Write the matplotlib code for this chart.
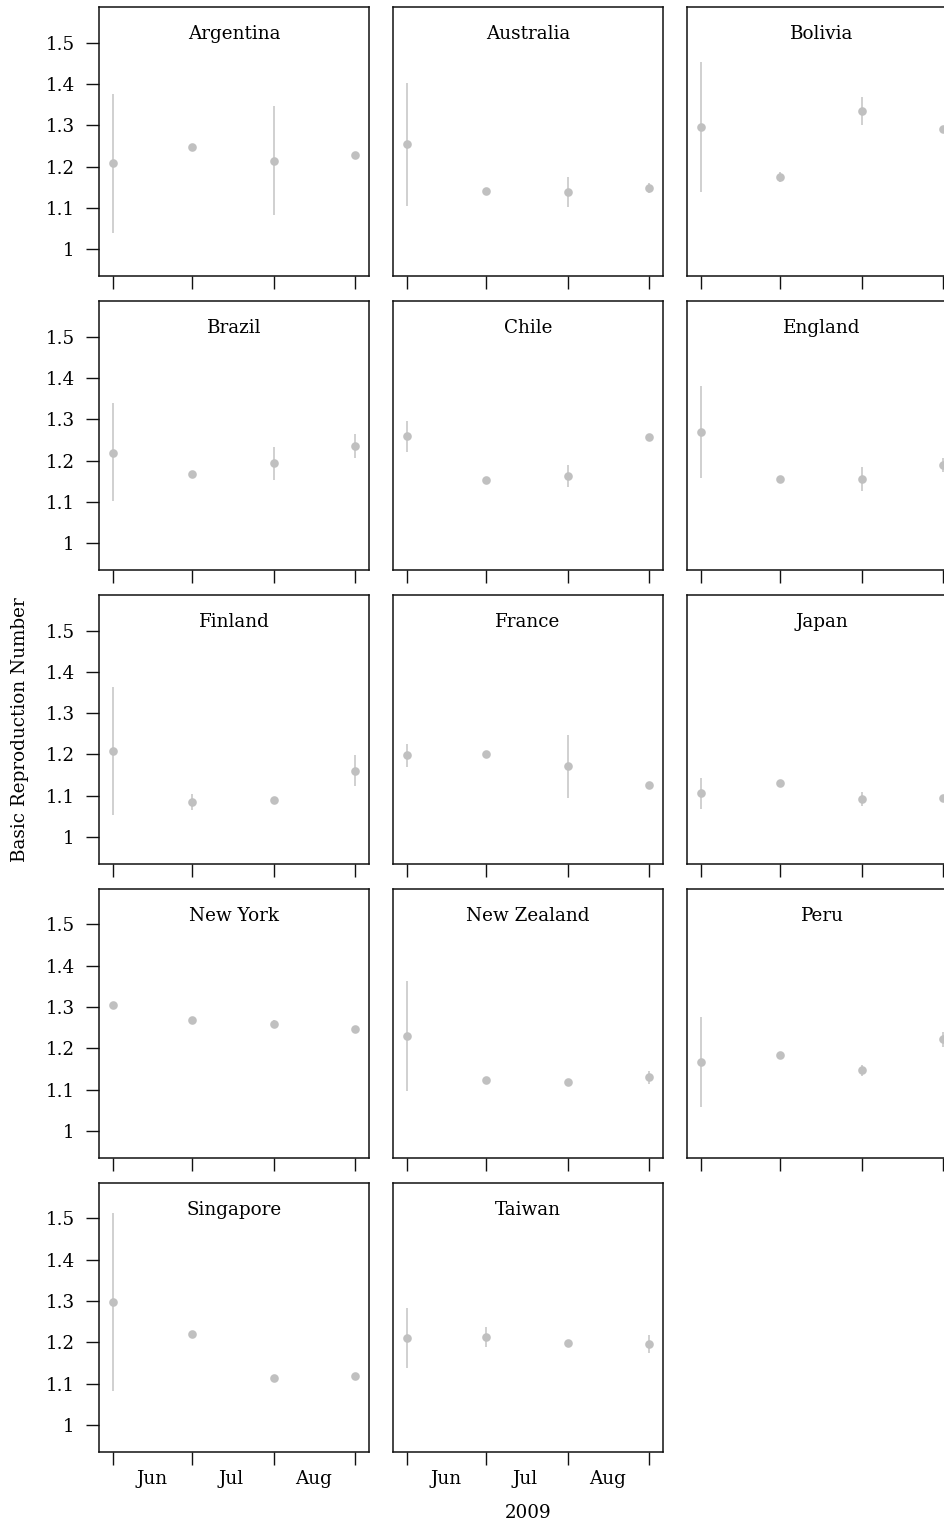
import matplotlib
matplotlib.use("Agg")
import matplotlib.pyplot as plt
import matplotlib.dates as mdates
import numpy as np
import datetime as dt

countries = ["Argentina", "Australia", "Bolivia", "Brazil", "Chile", "England",
             "Finland", "France", "Japan", "New York", "New Zealand", "Peru",
             "Singapore", "Taiwan"]
dates = ["2009-05-17", "2009-06-16", "2009-07-17", "2009-08-17"]
r_est = [
    [1.209, 1.248, 1.213, 1.228],
    [1.255, 1.141, 1.139, 1.148],
    [1.295, 1.175, 1.335, 1.291],
    [1.219, 1.168, 1.195, 1.236],
    [1.260, 1.152, 1.163, 1.258],
    [1.270, 1.156, 1.156, 1.190],
    [1.208, 1.085, 1.090, 1.160],
    [1.199, 1.201, 1.172, 1.126],
    [1.107, 1.131, 1.092, 1.094],
    [1.306, 1.269, 1.260, 1.248],
    [1.231, 1.124, 1.119, 1.131],
    [1.168, 1.185, 1.148, 1.223],
    [1.298, 1.220, 1.114, 1.119],
    [1.211, 1.213, 1.199, 1.196],
]
r_lo = [
    [1.040, 1.243, 1.083, 1.223],
    [1.105, 1.136, 1.103, 1.136],
    [1.138, 1.162, 1.301, 1.285],
    [1.101, 1.163, 1.153, 1.205],
    [1.221, 1.147, 1.137, 1.253],
    [1.158, 1.151, 1.127, 1.171],
    [1.053, 1.066, 1.085, 1.123],
    [1.170, 1.196, 1.095, 1.121],
    [1.069, 1.126, 1.076, 1.089],
    [1.301, 1.264, 1.252, 1.243],
    [1.096, 1.119, 1.114, 1.115],
    [1.058, 1.180, 1.134, 1.204],
    [1.082, 1.215, 1.109, 1.114],
    [1.139, 1.188, 1.194, 1.175],
]
r_hi = [
    [1.375, 1.253, 1.346, 1.233],
    [1.403, 1.146, 1.175, 1.161],
    [1.454, 1.187, 1.369, 1.297],
    [1.339, 1.173, 1.233, 1.265],
    [1.296, 1.157, 1.190, 1.263],
    [1.380, 1.161, 1.185, 1.206],
    [1.364, 1.104, 1.095, 1.199],
    [1.225, 1.206, 1.247, 1.131],
    [1.144, 1.136, 1.109, 1.099],
    [1.311, 1.274, 1.268, 1.253],
    [1.364, 1.129, 1.124, 1.145],
    [1.277, 1.190, 1.160, 1.240],
    [1.512, 1.225, 1.119, 1.124],
    [1.284, 1.236, 1.204, 1.217],
]
month_labels = ["Jun", "Jul", "Aug"]
month_starts = ["2009-06-01", "2009-07-01", "2009-08-01"]
y_ticks = [1.0, 1.1, 1.2, 1.3, 1.4, 1.5]
y_ticklabels = ["1", "1.1", "1.2", "1.3", "1.4", "1.5"]

plt.rcParams["font.family"] = ["DejaVu Serif"]
FS = 13.2
W, H = 945, 1523
fig = plt.figure(figsize=(W / 100, H / 100), dpi=100)

xd = [mdates.date2num(dt.datetime.strptime(d, "%Y-%m-%d")) for d in dates]
xm = [mdates.date2num(dt.datetime.strptime(d, "%Y-%m-%d")) for d in month_starts]
xlim = (xd[0] - 5.2, xd[-1] + 5.1)
ylim = (0.9346, 1.587)

pw, ph = 269.4, 269.5
left0, top0 = 99.3, 6.7
dx, dy = 294.0, 293.95
ptcol = "#c0c0c0"
ncol = 3
nrow = (len(countries) + ncol - 1) // ncol
for i, name in enumerate(countries):
    r, c = divmod(i, ncol)
    L = left0 + c * dx
    T = top0 + r * dy
    ax = fig.add_axes([L / W, 1 - (T + ph) / H, pw / W, ph / H])
    est = np.array(r_est[i]); lo = np.array(r_lo[i]); hi = np.array(r_hi[i])
    ax.vlines(xd, lo, hi, color="#c8c8c8", lw=1.2, zorder=2)
    ax.plot(xd, est, "o", color=ptcol, ms=6.2, mec="none", zorder=3)
    ax.set_xlim(*xlim)
    ax.set_ylim(*ylim)
    for s in ax.spines.values():
        s.set_linewidth(1.1)
        s.set_color("#111111")
    ax.set_xticks(xd)
    ax.set_xticklabels([])
    ax.tick_params(axis="x", which="major", direction="out", length=9.2, width=1.0,
                   color="#111111")
    ax.set_xticks(xm, minor=True)
    if r == nrow - 1:
        ax.set_xticklabels(month_labels, minor=True)
    else:
        ax.set_xticklabels([""] * len(xm), minor=True)
    ax.tick_params(axis="x", which="minor", length=0, pad=12.8, labelsize=FS)
    ax.set_yticks(y_ticks)
    if c == 0:
        ax.set_yticklabels(y_ticklabels)
        ax.tick_params(axis="y", direction="out", length=9.2, width=1.0,
                       color="#111111", pad=8.5, labelsize=FS)
    else:
        ax.tick_params(axis="y", length=0, labelleft=False)
    ax.text(0.5, 1 - 32.6 / ph, name, transform=ax.transAxes, ha="center",
            va="baseline", fontsize=FS)

fig.text(20 / W, 1 - 729.5 / H, "Basic Reproduction Number", rotation=90,
         ha="center", va="center", fontsize=FS)
fig.text(528 / W, 1 - 1513 / H, "2009", ha="center", va="center", fontsize=FS)

fig.savefig("out.png", dpi=100)
